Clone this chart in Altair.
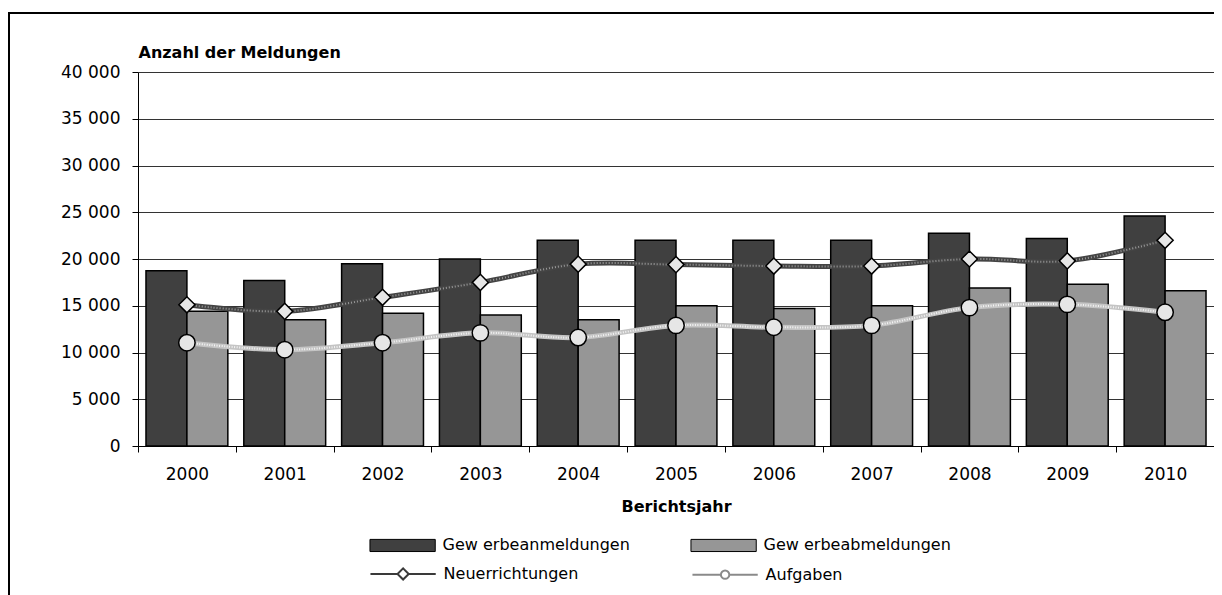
import altair as alt
import pandas as pd

# ---- data ----
years = ["2000", "2001", "2002", "2003", "2004", "2005", "2006", "2007", "2008", "2009", "2010"]
anmeldungen = [18750, 17700, 19500, 20000, 22000, 22000, 22000, 22000, 22750, 22200, 24600]
abmeldungen = [14400, 13500, 14200, 14000, 13500, 15000, 14700, 15000, 16900, 17300, 16600]
neuerrichtungen = [15100, 14400, 15900, 17500, 19450, 19400, 19250, 19250, 20000, 19800, 22000]
aufgaben = [11050, 10300, 11050, 12100, 11600, 12900, 12700, 12900, 14800, 15150, 14300]
y_ticks = [0, 5000, 10000, 15000, 20000, 25000, 30000, 35000, 40000]

bar_names = ["Gew erbeanmeldungen", "Gew erbeabmeldungen"]
line_names = ["Neuerrichtungen", "Aufgaben"]

bars_df = pd.DataFrame({
    "year": years * 2,
    "series": [bar_names[0]] * len(years) + [bar_names[1]] * len(years),
    "value": anmeldungen + abmeldungen,
})
neu_df = pd.DataFrame({"year": years, "series": line_names[0], "value": neuerrichtungen})
auf_df = pd.DataFrame({"year": years, "series": line_names[1], "value": aufgaben})
lines_df = pd.concat([neu_df, auf_df], ignore_index=True)

W, H = 1076, 374
FONT = "DejaVu Sans"

x_enc = alt.X("year:N", sort=years,
              scale=alt.Scale(paddingInner=0, paddingOuter=0),
              axis=alt.Axis(title="Berichtsjahr", labelAngle=0, tickBand="extent",
                            tickSize=6, tickColor="black", domainColor="black",
                            labelFontSize=17, labelFont=FONT, labelColor="black", labelPadding=14,
                            titleFont=FONT, titleFontSize=16, titleFontWeight="bold",
                            titleColor="black", titlePadding=16, grid=False))
y_scale = alt.Scale(domain=[0, 40000])
y_enc = alt.Y("value:Q", scale=y_scale,
              axis=alt.Axis(values=y_ticks, title="Anzahl der Meldungen",
                            labelExpr="replace(format(datum.value, ','), ',', ' ')",
                            tickSize=6, tickColor="black", domainColor="black",
                            gridColor="#333333", gridWidth=1,
                            labelFontSize=17, labelFont=FONT, labelColor="black", labelPadding=12,
                            titleFont=FONT, titleFontSize=16, titleFontWeight="bold",
                            titleColor="black", titleAngle=0, titleAlign="left",
                            titleBaseline="middle", titleX=0, titleY=-20))

RECT_PATH = "M-3.5,-0.65H3.5V0.65H-3.5Z"
DIAMOND_PATH = "M-3.5,0H-0.6M0.6,0H3.5M-0.6,0L0,-0.6L0.6,0L0,0.6Z"
CIRCLE_PATH = "M-3.5,0H-0.45M0.45,0H3.5M-0.45,0A0.45,0.45 0 1,0 0.45,0A0.45,0.45 0 1,0 -0.45,0Z"

bars = alt.Chart(bars_df).mark_bar(stroke="black", strokeWidth=1.5).encode(
    x=x_enc,
    xOffset=alt.XOffset("series:N", sort=bar_names,
                        scale=alt.Scale(paddingOuter=0.195, paddingInner=0)),
    y=y_enc,
    fill=alt.Fill("series:N", sort=bar_names,
                  scale=alt.Scale(domain=bar_names, range=["#404040", "#969696"]),
                  legend=alt.Legend(title=None, orient="none", legendX=232, legendY=463,
                                    direction="horizontal", columns=2, columnPadding=58,
                                    symbolType=RECT_PATH, symbolSize=348,
                                    symbolStrokeColor="black", symbolStrokeWidth=1,
                                    symbolOffset=22.6, labelOffset=30, padding=0,
                                    labelLimit=400,
                                    labelFont=FONT, labelFontSize=16, labelColor="black")),
)

def line_layers(df, base_color, dot_color, dash):
    base = alt.Chart(df).mark_line(color=base_color, strokeWidth=5, interpolate="cardinal").encode(
        x=alt.X("year:N", sort=years), y=alt.Y("value:Q", scale=y_scale))
    over = alt.Chart(df).mark_line(color=dot_color, strokeWidth=2, strokeDash=dash,
                                   interpolate="cardinal").encode(
        x=alt.X("year:N", sort=years), y=alt.Y("value:Q", scale=y_scale))
    return [base, over]

neu_lines = line_layers(neu_df, "#444444", "#9a9a9a", [1, 2])
auf_lines = line_layers(auf_df, "#c4c4c4", "#f6f6f6", [1, 1.5])

neu_pts = alt.Chart(neu_df).mark_point(shape="diamond", size=260, filled=True, fill="#e6e6e6",
                                        stroke="black", strokeWidth=1.5, opacity=1).encode(
    x=alt.X("year:N", sort=years), y=alt.Y("value:Q", scale=y_scale))
auf_pts = alt.Chart(auf_df).mark_point(shape="circle", size=270, filled=True, fill="#e6e6e6",
                                       stroke="black", strokeWidth=1.5, opacity=1).encode(
    x=alt.X("year:N", sort=years), y=alt.Y("value:Q", scale=y_scale))

line_legend = alt.Legend(title=None, orient="none", legendX=232, legendY=491,
                         direction="horizontal", columns=2, columnPadding=109,
                         symbolSize=348, symbolStrokeWidth=2, symbolFillColor="#ffffff",
                         symbolOpacity=1, symbolOffset=22.6, labelOffset=30, padding=0,
                         labelLimit=400,
                         labelFont=FONT, labelFontSize=16, labelColor="black")
legend_layer = alt.Chart(lines_df).mark_point(opacity=0, filled=False).encode(
    x=alt.X("year:N", sort=years), y=alt.Y("value:Q", scale=y_scale),
    shape=alt.Shape("series:N", sort=line_names,
                    scale=alt.Scale(domain=line_names, range=[DIAMOND_PATH, CIRCLE_PATH]),
                    legend=line_legend),
    stroke=alt.Stroke("series:N", sort=line_names,
                      scale=alt.Scale(domain=line_names, range=["#3a3a3a", "#8a8a8a"]),
                      legend=line_legend),
)

frame = alt.Chart(pd.DataFrame({"f": [0]})).mark_rect(
    fill="white", fillOpacity=0, stroke="black", strokeWidth=2).encode(
    x=alt.value(-129), x2=alt.value(W + 60), y=alt.value(-59), y2=alt.value(H + 300))

chart = alt.layer(bars, *neu_lines, *auf_lines, neu_pts, auf_pts, legend_layer, frame).properties(
    width=W, height=H,
    autosize=alt.AutoSizeParams(type="none"),
    padding={"left": 130, "top": 64, "right": 0, "bottom": 149},
).configure_view(stroke="#888888", strokeWidth=1).configure(background="white")

chart.save("out.html", embed_options={"renderer": "svg", "actions": False})
